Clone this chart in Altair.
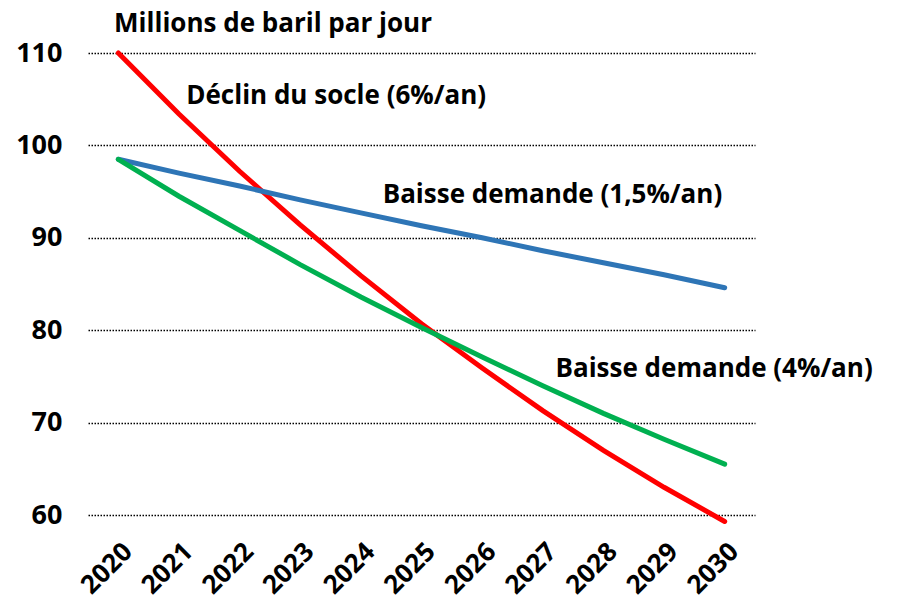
import pandas as pd
import altair as alt

# data
years = [2020, 2021, 2022, 2023, 2024, 2025, 2026, 2027, 2028, 2029, 2030]
socle = [110.0, 103.4, 97.2, 91.4, 85.9, 80.7, 75.9, 71.3, 67.0, 63.0, 59.3]
demande_15 = [98.5, 97.0, 95.6, 94.1, 92.7, 91.3, 90.0, 88.6, 87.3, 86.0, 84.6]
demande_4 = [98.5, 94.5, 90.8, 87.1, 83.6, 80.3, 77.1, 74.0, 71.0, 68.2, 65.5]

series = ['Déclin du socle (6%/an)', 'Baisse demande (1,5%/an)', 'Baisse demande (4%/an)']
colors = ['#FF0000', '#2E75B6', '#00B050']

# annotation labels (text, x in years, y in value units)
label_text = ['Millions de baril par jour'] + series
label_x = [2019.93, 2021.12, 2024.36, 2027.21]
label_y = [113.1, 105.3, 94.6, 75.8]

FONT = 'Open Sans'

df = pd.DataFrame({
    'year': years * 3,
    'value': socle + demande_15 + demande_4,
    'serie': [series[0]] * 11 + [series[1]] * 11 + [series[2]] * 11,
})
df_labels = pd.DataFrame({'text': label_text, 'x': label_x, 'y': label_y})

x_scale = alt.Scale(domain=[2019.5, 2030.5], nice=False, zero=False)
y_scale = alt.Scale(domain=[60, 110], nice=False, zero=False)

lines = alt.Chart(df).mark_line(strokeWidth=5, strokeCap='round').encode(
    x=alt.X('year:Q', scale=x_scale,
            axis=alt.Axis(values=years, format='d', grid=False, ticks=False, domain=False,
                          labelAngle=-45, labelFontSize=26, labelFontWeight='bold',
                          labelColor='black', labelFont=FONT, labelPadding=23, title=None)),
    y=alt.Y('value:Q', scale=y_scale,
            axis=alt.Axis(values=[60, 70, 80, 90, 100, 110], grid=True, ticks=False, domain=False,
                          gridColor='black', gridDash=[1.5, 1.5], gridWidth=1.5,
                          labelFontSize=27, labelFontWeight='bold', labelColor='black',
                          labelFont=FONT, labelPadding=26, title=None)),
    color=alt.Color('serie:N', scale=alt.Scale(domain=series, range=colors), legend=None),
)

labels = alt.Chart(df_labels).mark_text(
    align='left', baseline='middle', fontSize=26, fontWeight='bold', font=FONT, color='black'
).encode(
    x=alt.X('x:Q', scale=x_scale),
    y=alt.Y('y:Q', scale=y_scale),
    text='text:N',
)

chart = alt.layer(lines, labels).properties(
    width=667, height=462,
    autosize='none',
    padding={'left': 80, 'top': 45, 'right': 136, 'bottom': 85},
).configure_view(stroke=None)

chart.save("out.html", embed_options={"renderer": "svg", "actions": False})
